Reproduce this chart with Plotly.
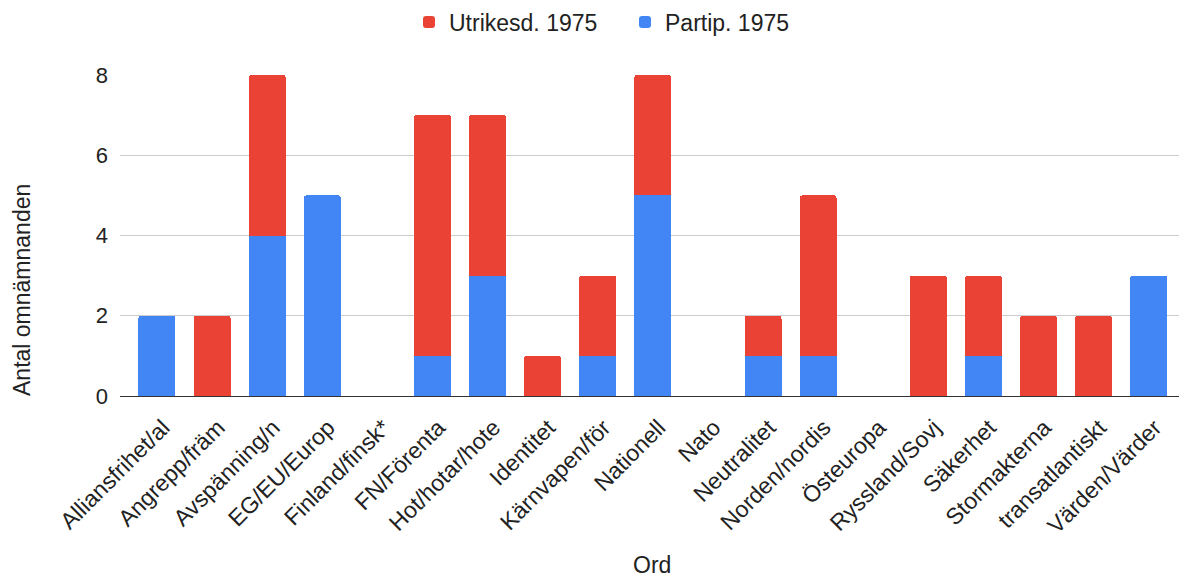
import plotly.graph_objects as go

categories = ["Alliansfrihet/al", "Angrepp/främ", "Avspänning/n", "EG/EU/Europ", "Finland/finsk*",
              "FN/Förenta", "Hot/hotar/hote", "Identitet", "Kärnvapen/för", "Nationell", "Nato",
              "Neutralitet", "Norden/nordis", "Östeuropa", "Ryssland/Sovj", "Säkerhet",
              "Stormakterna", "transatlantiskt", "Värden/Värder"]
partip_1975 = [2, 0, 4, 5, 0, 1, 3, 0, 1, 5, 0, 1, 1, 0, 0, 1, 0, 0, 3]
utrikesd_1975 = [0, 2, 4, 0, 0, 6, 4, 1, 2, 3, 0, 1, 4, 0, 3, 2, 2, 2, 0]
y_ticks = [0, 2, 4, 6, 8]

FONT = "Liberation Sans, Arial, sans-serif"
TXT = "#222222"
W, H = 1179, 580
L, R, T, B = 120, 0, 75, 184
PW, PH = W - L - R, H - T - B


def px(x):
    return (x - L) / PW


def py(y):
    return (H - B - y) / PH


fig = go.Figure()
fig.add_trace(go.Bar(x=categories, y=partip_1975, name="Partip. 1975", marker_color="#4285f4",
                     marker_line_width=0))
fig.add_trace(go.Bar(x=categories, y=utrikesd_1975, name="Utrikesd. 1975", marker_color="#ea4335",
                     marker_line_width=0))

fig.update_layout(
    barmode="stack",
    bargap=0.328,
    barcornerradius=3,
    width=W, height=H,
    margin=dict(l=L, r=R, t=T, b=B, autoexpand=False),
    paper_bgcolor="white", plot_bgcolor="white",
    font=dict(family=FONT, size=23, color=TXT),
    legend=dict(orientation="h", x=px(625), xanchor="center", y=py(22), yanchor="middle",
                traceorder="reversed", entrywidth=171, font=dict(size=23, color=TXT)),
    showlegend=True,
    annotations=[
        dict(text="Ord", xref="paper", yref="paper", x=px(652), y=py(580), showarrow=False,
             xanchor="center", yanchor="bottom", font=dict(size=23, color=TXT)),
        dict(text="Antal omnämnanden", xref="paper", yref="paper", x=px(22), y=py(290),
             showarrow=False, textangle=-90, xanchor="center", yanchor="middle",
             font=dict(size=23, color=TXT)),
    ],
)
fig.update_xaxes(range=[-0.671, 18.55], tickangle=-45, tickfont=dict(size=23, color=TXT),
                 showgrid=False, showline=True, linecolor="#333333", linewidth=1,
                 ticklabelstandoff=8, ticklabelshift=6, automargin=False)
fig.update_yaxes(range=[0, 8], tickvals=y_ticks, tickfont=dict(size=22, color=TXT),
                 showgrid=True, gridcolor="#cccccc", gridwidth=1, zeroline=False,
                 ticks="", ticklabelstandoff=11, automargin=False)

fig.write_html("out.html", config={"displayModeBar": False},
               post_script="document.body.style.margin='0';")
